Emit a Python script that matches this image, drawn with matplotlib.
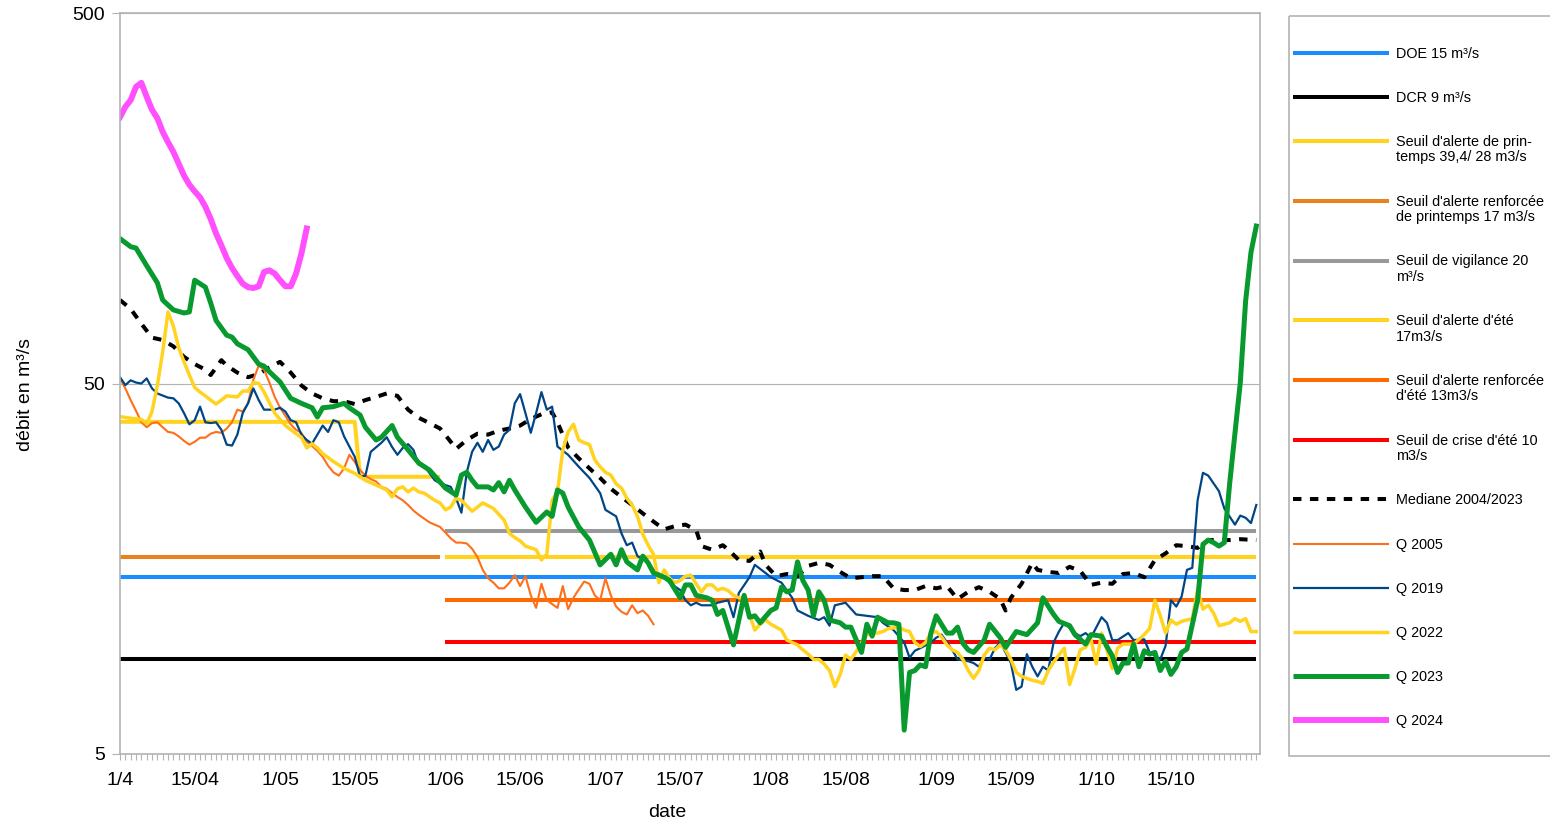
import numpy as np
import matplotlib

matplotlib.use("Agg")
import matplotlib.pyplot as plt
from matplotlib.patches import Rectangle
from matplotlib.ticker import FixedLocator, MultipleLocator, NullLocator

plt.rcParams["font.family"] = ["Liberation Sans", "DejaVu Sans"]

W, H = 1550, 824
GREY = "#b3b3b3"

# x axis: day number counted from 1 April (0) to 31 October (213)
tick_days = [0, 14, 30, 44, 61, 75, 91, 105, 122, 136, 153, 167, 183, 197]
tick_labels = ["1/4", "15/04", "1/05", "15/05", "1/06", "15/06", "1/07",
               "15/07", "1/08", "15/08", "1/09", "15/09", "1/10", "15/10"]
last_day = 213

# thresholds (m3/s)
doe = 15
dcr = 9
spring_alert_days = [0, 44, 45, 60]
spring_alert_vals = [39.4, 39.4, 28, 28]
spring_reinforced = 17      # 1/4 -> 31/05
summer_start = 61           # 1/06
vigilance = 20
summer_alert = 17
summer_reinforced = 13
summer_crisis = 10

# median 2004/2023 (day, m3/s)
median = [(0, 84), (2, 79.5), (4, 72.5), (6, 66.5), (8, 65.5), (10, 63), (12, 59),
          (14, 56.4), (16, 54.5), (17, 52.7), (19, 57.8), (20, 55.9), (22, 53.5),
          (24, 52), (26, 53), (28, 55.3), (30, 57.2), (32, 53.5), (34, 49.4),
          (36, 47), (38, 45.6), (40, 44.8), (42, 44.8), (44, 44), (46, 45.1),
          (48, 46), (50, 47), (52, 46.3), (54, 42.5), (56, 40.4), (58, 39.1),
          (60, 37.8), (62, 34.8), (63, 33.3), (65, 35.2), (67, 36.6), (69, 36.4),
          (71, 37.3), (73, 37.8), (75, 38.5), (77, 40.1), (79, 41.3), (81, 41.8),
          (82, 39.3), (84, 33.6), (86, 31.4), (88, 29.5), (90, 27.8), (92, 26),
          (94, 24.7), (96, 23.5), (98, 22.3), (100, 21.2), (102, 20.2), (104, 20.6),
          (106, 20.8), (108, 20.1), (109, 18.2), (111, 17.8), (113, 18.3),
          (114, 17.8), (116, 16.7), (118, 16.6), (120, 17.6), (121, 16.2),
          (123, 15.1), (125, 15.3), (127, 15.1), (129, 16.1), (131, 16.4),
          (133, 16.2), (135, 15.5), (137, 14.9), (139, 15.0), (141, 15.1),
          (143, 15.1), (145, 14.0), (147, 13.85), (149, 13.85), (151, 14.2),
          (153, 14.0), (155, 14.2), (157, 13.1), (159, 13.7), (161, 14.1),
          (163, 13.7), (165, 13.1), (166, 12.2), (167, 13.2), (169, 14.4),
          (171, 16.4), (172, 15.7), (174, 15.5), (176, 15.4), (178, 16.0),
          (180, 15.6), (182, 14.3), (184, 14.5), (186, 14.4), (188, 15.3),
          (190, 15.4), (192, 15.0), (194, 16.7), (196, 17.4), (198, 18.3),
          (200, 18.2), (202, 18.0), (204, 18.9), (206, 18.9), (208, 18.9),
          (210, 19.0), (213, 18.9)]

# Q 2005, daily from 1/4
q2005 = [51.6, 48.5, 45.1, 42.2, 39.3, 38.1, 39.1, 39.3, 38.1, 37.0,
         36.8, 36.0, 35.0, 34.2, 34.8, 35.7, 35.7, 36.6, 37.0, 36.8,
         37.8, 39.3, 42.5, 42.0, 44.2, 51.2, 55.9, 54.5, 50.3, 46.0,
         43.0, 40.9, 38.8, 37.5, 36.8, 34.8, 33.9, 32.9, 31.7, 30.0,
         28.8, 28.2, 29.5, 32.1, 30.7, 29.2, 28.2, 27.6, 27.2, 26.3,
         26.0, 25.3, 24.7, 24.2, 23.5, 22.7, 22.1, 21.6, 21.1, 20.8,
         20.5, 19.8, 19.1, 18.6, 18.6, 18.5, 17.9, 17.0, 15.7, 14.9,
         14.5, 14.0, 14.0, 14.5, 15.2, 14.2, 15.1, 13.4, 12.4, 14.4,
         13.0, 12.7, 12.4, 14.2, 12.3, 13.2, 13.9, 14.6, 14.4, 13.4,
         13.0, 14.9, 13.4, 12.5, 12.1, 11.9, 12.6, 12.0, 12.2, 11.8,
         11.2]

q2019 = [(0, 52), (1, 49.5), (2, 51), (3, 50.3), (4, 50), (5, 51.6), (6, 48.5),
         (7, 47), (9, 45.8), (10, 45.6), (11, 44.2), (12, 41.6), (13, 38.8),
         (14, 39.8), (15, 43.3), (16, 39.3), (17, 39.1), (18, 39.3), (19, 37.5),
         (20, 34.2), (21, 34), (22, 36.4), (23, 41.6), (24, 44.2), (25, 48.5),
         (26, 45.1), (27, 42.5), (29, 42.5), (30, 43), (31, 42), (32, 39.8),
         (33, 39.3), (34, 36.4), (35, 35.2), (36, 34.4), (38, 38.5), (39, 37),
         (40, 39.8), (41, 39.3), (42, 36), (44, 31.7), (45, 28), (46, 28.2),
         (47, 32.7), (49, 34.6), (50, 35.8), (51, 33.7), (52, 32.1), (53, 33.5),
         (54, 34.3), (55, 33.1), (56, 30.2), (57, 30), (59, 27.4), (60, 26.9),
         (62, 26.3), (63, 24.5), (64, 22.4), (65, 28.8), (66, 32.7), (67, 34.6),
         (68, 32.7), (69, 35.2), (70, 33.1), (71, 33.8), (72, 36.4), (73, 37.5),
         (74, 44.2), (75, 46.8), (76, 41.6), (77, 36.8), (78, 41.6), (79, 47.4),
         (80, 42.5), (81, 43.3), (82, 33.8), (84, 32.1), (86, 29.8), (88, 27.8),
         (90, 25.3), (91, 22.8), (93, 21.9), (94, 19.7), (95, 18.3), (96, 18.6),
         (97, 17.1), (99, 16.5), (100, 15.7), (102, 15.0), (103, 14.5),
         (105, 13.85), (106, 13.0), (107, 12.6), (108, 12.8), (109, 12.6),
         (111, 12.6), (112, 12.8), (114, 13.0), (115, 11.7), (116, 13.6),
         (118, 15.0), (119, 16.2), (121, 15.4), (122, 15.0), (124, 14.5),
         (126, 13.2), (127, 12.2), (129, 11.8), (131, 11.5), (132, 11.7),
         (133, 11.1), (134, 12.6), (136, 12.8), (138, 11.9), (140, 11.8),
         (142, 11.7), (143, 11.3), (145, 10.8), (147, 10.0), (148, 9.1),
         (149, 9.5), (150, 9.65), (152, 10.0), (153, 10.3), (154, 10.5),
         (156, 9.55), (157, 9.0), (159, 8.9), (160, 8.8), (161, 8.6), (162, 9.1),
         (163, 9.0), (164, 9.65), (165, 10.0), (166, 9.4), (167, 8.8), (168, 7.45),
         (169, 7.6), (170, 9.3), (171, 8.6), (172, 8.1), (173, 8.6), (174, 8.4),
         (175, 10.0), (176, 10.7), (177, 11.3), (179, 10.6), (180, 10.4),
         (181, 10.6), (182, 10.3), (184, 11.7), (185, 11.3), (186, 10.15),
         (187, 10.15), (189, 10.6), (190, 10.15), (192, 10.2), (193, 9.4),
         (195, 9.0), (196, 9.8), (197, 13.0), (198, 12.5), (199, 13.3),
         (200, 15.7), (201, 15.9), (202, 24.2), (203, 28.7), (204, 28.2),
         (206, 25.6), (207, 23.0), (209, 20.8), (210, 22.0), (211, 21.7),
         (212, 21.0), (213, 23.5)]

q2022 = [(0, 40.7), (2, 40.3), (4, 40), (5, 39), (6, 42), (7, 49.4), (8, 60.8),
         (9, 78), (10, 71.5), (11, 62.5), (12, 57.2), (13, 52.7), (14, 48.8),
         (15, 47.4), (16, 46.3), (17, 45.1), (18, 44), (19, 45.1), (20, 46.3),
         (22, 46), (23, 47.7), (24, 47.7), (25, 50.3), (26, 50), (27, 47.4),
         (29, 41.6), (31, 38.5), (33, 36.6), (34, 35.8), (35, 33.5), (36, 34.4),
         (37, 33.5), (38, 32.3), (40, 30.8), (42, 29.5), (44, 28.6), (46, 27.4),
         (48, 26.6), (50, 25.8), (51, 24.7), (52, 26), (53, 26.3), (54, 25.5),
         (55, 26.1), (56, 25.5), (57, 25.3), (59, 24.2), (60, 23.8), (61, 22.8),
         (62, 23.2), (63, 24.5), (64, 24.2), (66, 22.6), (68, 23.8), (70, 23),
         (72, 21.4), (73, 19.7), (74, 19.2), (75, 18.8), (76, 18.2), (78, 17.8),
         (79, 16.7), (80, 17.3), (81, 24.2), (82, 25.5), (83, 33), (84, 37),
         (85, 38.8), (86, 35.2), (87, 34.6), (88, 34.2), (89, 31.1), (90, 29.8),
         (91, 28.8), (92, 28.3), (93, 26.8), (94, 26.1), (95, 24.5), (96, 23.5),
         (97, 21.9), (98, 19.6), (99, 18.3), (100, 17.3), (101, 14.5), (102, 15.7),
         (103, 14.9), (104, 14.5), (105, 14.7), (106, 15.1), (107, 15.2),
         (108, 14.4), (109, 13.7), (110, 14.3), (111, 14.3), (112, 13.85),
         (113, 14), (114, 13.8), (115, 13.4), (116, 13.2), (117, 13.2), (118, 11.9),
         (119, 10.8), (120, 11.2), (121, 11.5), (122, 11.2), (123, 11.0),
         (124, 10.8), (125, 10.15), (126, 10.0), (127, 9.85), (128, 9.55),
         (129, 9.3), (130, 9.0), (131, 9.0), (132, 8.75), (133, 8.4), (134, 7.6),
         (135, 8.2), (136, 9.25), (137, 9.0), (138, 9.45), (139, 10.0), (140, 10.5),
         (141, 10.6), (142, 10.6), (143, 10.7), (144, 10.9), (146, 11.0),
         (147, 10.8), (148, 10.7), (149, 10.0), (150, 9.75), (151, 10.0),
         (152, 10.6), (153, 10.7), (154, 10.35), (155, 9.85), (156, 9.55),
         (157, 9.4), (158, 9.0), (159, 8.4), (160, 8.0), (161, 8.4), (162, 9.25),
         (163, 9.65), (164, 9.55), (165, 9.85), (166, 9.55), (167, 9.0), (168, 8.3),
         (169, 8.1), (171, 7.9), (172, 7.85), (173, 7.75), (174, 8.4), (175, 8.85),
         (176, 9.25), (177, 9.65), (178, 7.7), (179, 8.5), (180, 9.55), (181, 9.7),
         (182, 10.2), (183, 8.75), (184, 10.6), (185, 9.55), (186, 8.5),
         (187, 9.65), (188, 9.9), (189, 9.9), (190, 9.9), (191, 10.2), (192, 10.5),
         (193, 10.9), (194, 13.0), (195, 11.8), (196, 10.6), (197, 11.5),
         (198, 11.2), (199, 11.4), (200, 11.5), (201, 11.6), (202, 13.85),
         (203, 12.3), (204, 12.6), (205, 12.0), (206, 11.1), (207, 11.2),
         (208, 11.3), (209, 11.6), (210, 11.4), (211, 11.6), (212, 10.7),
         (213, 10.7)]

q2023 = [(0, 123), (1, 120), (2, 117), (3, 116), (5, 104), (7, 93.5), (8, 84),
         (10, 79), (12, 77.5), (13, 78), (14, 95), (16, 91), (17, 82.5), (18, 74),
         (20, 67.5), (21, 66.7), (22, 64), (24, 61.7), (25, 59), (26, 56.4),
         (27, 55.7), (28, 53.8), (30, 50.5), (32, 45.6), (34, 44.2), (36, 43),
         (37, 40.6), (38, 43), (40, 43.3), (42, 44.2), (43, 43), (45, 41.1),
         (46, 38.1), (48, 35.2), (49, 35.8), (51, 38.5), (52, 35.8), (54, 33.1),
         (56, 30.5), (58, 29.2), (61, 26.1), (63, 25), (64, 28.3), (65, 28.8),
         (66, 27.4), (67, 26.3), (69, 26.3), (70, 25.8), (71, 27), (72, 25.5),
         (73, 27.4), (74, 25.8), (76, 23.2), (78, 21.1), (80, 22.5), (81, 21.9),
         (82, 25.8), (83, 25.3), (84, 23.2), (86, 20.5), (88, 18.9), (90, 16.2),
         (92, 17.3), (93, 16.2), (94, 17.8), (95, 16.5), (97, 15.7), (98, 17.1),
         (99, 16.4), (100, 15.4), (102, 15.0), (103, 14.7), (105, 13.2),
         (106, 14.3), (107, 14.3), (108, 13.4), (110, 13.2), (111, 13.0),
         (112, 11.9), (113, 12.2), (115, 9.85), (117, 13.4), (118, 11.7),
         (119, 11.8), (120, 11.3), (122, 12.2), (123, 12.4), (124, 14.1),
         (125, 13.7), (126, 13.85), (127, 16.5), (128, 14.7), (129, 13.85),
         (130, 11.8), (131, 13.7), (132, 13.0), (133, 11.5), (135, 11.3),
         (136, 11.0), (137, 11.0), (139, 9.4), (140, 11.2), (141, 10.4),
         (142, 11.7), (144, 11.3), (145, 11.3), (146, 11.2), (147, 5.8),
         (148, 8.3), (149, 8.4), (150, 8.7), (151, 8.6), (152, 10.6), (153, 11.8),
         (155, 10.6), (156, 10.6), (157, 11.0), (158, 9.95), (159, 9.55),
         (160, 9.4), (162, 10.15), (163, 11.2), (165, 10.3), (166, 9.7),
         (168, 10.7), (170, 10.5), (172, 11.3), (173, 13.2), (175, 11.9),
         (176, 11.4), (178, 11.1), (179, 10.5), (181, 9.9), (182, 10.5),
         (184, 10.4), (185, 9.75), (186, 9.2), (187, 8.3), (188, 8.8), (189, 8.8),
         (190, 9.9), (191, 8.6), (192, 9.5), (193, 9.3), (194, 9.4), (195, 8.4),
         (196, 8.9), (197, 8.2), (198, 8.6), (199, 9.4), (200, 9.6), (202, 13.0),
         (203, 18.4), (204, 18.9), (205, 18.6), (206, 18.2), (207, 18.6),
         (208, 26.8), (210, 50.3), (211, 83.5), (212, 113), (213, 133)]

# Q 2024, daily from 1/4
q2024 = [262, 279, 291, 316, 324, 297, 274, 260, 239, 224,
         211, 196, 182, 172, 165, 159, 150, 139, 127, 118,
         109, 102.5, 97.5, 93, 91, 90.5, 91.5, 100, 101, 99,
         95, 91.5, 91.5, 99, 112, 131]

# colours / widths (px converted to pt at 100 dpi)
C_DOE = "#1a8cff"
C_DCR = "#000000"
C_YEL = "#ffd320"
C_ORA_SPRING = "#e8821e"
C_VIG = "#999999"
C_ORA_SUMMER = "#ff6a00"
C_RED = "#ff0000"
C_2005 = "#ff6e1a"
C_2019 = "#004586"
C_2023 = "#089a2e"
C_2024 = "#ff4fff"
LW_T = 2.9
DASH = (2.1, 2.1)


def unzip(pairs):
    d, v = zip(*pairs)
    return np.array(d), np.array(v)


fig = plt.figure(figsize=(W / 100, H / 100), dpi=100)
ax = fig.add_axes([120 / W, 1 - 754 / H, 1139.5 / W, 741 / H])
ax.set_yscale("log")
ax.set_ylim(5, 500)
ax.set_xlim(0, 213.6)

sty = dict(solid_capstyle="butt")
ax.plot([0, last_day], [doe, doe], color=C_DOE, lw=LW_T, **sty)
ax.plot([0, last_day], [dcr, dcr], color=C_DCR, lw=LW_T, **sty)
ax.plot(spring_alert_days, spring_alert_vals, color=C_YEL, lw=LW_T, **sty)
ax.plot([0, summer_start - 1], [spring_reinforced] * 2, color=C_ORA_SPRING, lw=LW_T, **sty)
ax.plot([summer_start, last_day], [vigilance] * 2, color=C_VIG, lw=LW_T, **sty)
ax.plot([summer_start, last_day], [summer_alert] * 2, color=C_YEL, lw=LW_T, **sty)
ax.plot([summer_start, last_day], [summer_reinforced] * 2, color=C_ORA_SUMMER, lw=LW_T, **sty)
ax.plot([summer_start, last_day], [summer_crisis] * 2, color=C_RED, lw=LW_T, **sty)

d, v = unzip(median)
ax.plot(d, v, color="black", lw=LW_T, dashes=DASH)
ax.plot(np.arange(len(q2005)), q2005, color=C_2005, lw=1.5)
d, v = unzip(q2019)
ax.plot(d, v, color=C_2019, lw=1.6)
d, v = unzip(q2022)
ax.plot(d, v, color=C_YEL, lw=2.5)
d, v = unzip(q2023)
ax.plot(d, v, color=C_2023, lw=3.6)
ax.plot(np.arange(len(q2024)), q2024, color=C_2024, lw=4.3)

# axes cosmetics
ax.set_yticks([5, 50, 500])
ax.set_yticklabels(["5", "50", "500"])
ax.yaxis.set_minor_locator(NullLocator())
ax.xaxis.set_major_locator(FixedLocator(tick_days))
ax.set_xticklabels(tick_labels)
ax.xaxis.set_minor_locator(MultipleLocator(1))
ax.tick_params(axis="x", which="both", direction="out", length=4.3, width=0.8,
               color=GREY, pad=9, labelsize=14)
ax.tick_params(axis="y", which="both", direction="out", length=5.8, width=0.8,
               color=GREY, pad=5, labelsize=14)
ax.yaxis.grid(True, which="major", color=GREY, lw=0.8)
ax.set_axisbelow(True)
for sp in ax.spines.values():
    sp.set_color(GREY)
    sp.set_linewidth(1.2)

ax.set_xlabel("date", fontsize=14)
ax.xaxis.set_label_coords(0.48, -0.0796)
ax.xaxis.label.set_verticalalignment("center")
ax.set_ylabel("débit en m³/s", fontsize=14)
ax.yaxis.set_label_coords(-0.0833, 0.4845)
ax.yaxis.label.set_verticalalignment("center")

# legend drawn in pixel coordinates to mimic the LibreOffice layout
lg = fig.add_axes([0, 0, 1, 1], facecolor="none")
lg.set_xlim(0, W)
lg.set_ylim(H, 0)
lg.axis("off")
lg.add_patch(Rectangle((1289, 16), 270, 740, fill=False, edgecolor=GREY, lw=1.2))

entries = [
    ("DOE 15 m³/s", dict(color=C_DOE, lw=LW_T)),
    ("DCR 9 m³/s", dict(color=C_DCR, lw=LW_T)),
    ("Seuil d'alerte de prin-\ntemps 39,4/ 28 m3/s", dict(color=C_YEL, lw=LW_T)),
    ("Seuil d'alerte renforcée\nde printemps 17 m3/s", dict(color=C_ORA_SPRING, lw=LW_T)),
    ("Seuil de vigilance 20\nm³/s", dict(color=C_VIG, lw=LW_T)),
    ("Seuil d'alerte d'été\n17m3/s", dict(color=C_YEL, lw=LW_T)),
    ("Seuil d'alerte renforcée\nd'été 13m3/s", dict(color=C_ORA_SUMMER, lw=LW_T)),
    ("Seuil de crise d'été 10\nm3/s", dict(color=C_RED, lw=LW_T)),
    ("Mediane 2004/2023", dict(color="black", lw=LW_T, dashes=DASH)),
    ("Q 2005", dict(color=C_2005, lw=1.5)),
    ("Q 2019", dict(color=C_2019, lw=1.6)),
    ("Q 2022", dict(color=C_YEL, lw=2.5)),
    ("Q 2023", dict(color=C_2023, lw=3.6)),
    ("Q 2024", dict(color=C_2024, lw=4.3)),
]
y = 52.7
for label, kw in entries:
    lg.plot([1293, 1389], [y, y], solid_capstyle="butt", **kw)
    lines = label.split("\n")
    for i, line in enumerate(lines):
        lg.text(1396, y + 5 + 15.3 * i, line, fontsize=10.4, va="baseline", ha="left")
    y += 44.2 + 15.5 * (len(lines) - 1)

fig.savefig("out.png", dpi=100, facecolor="white")
